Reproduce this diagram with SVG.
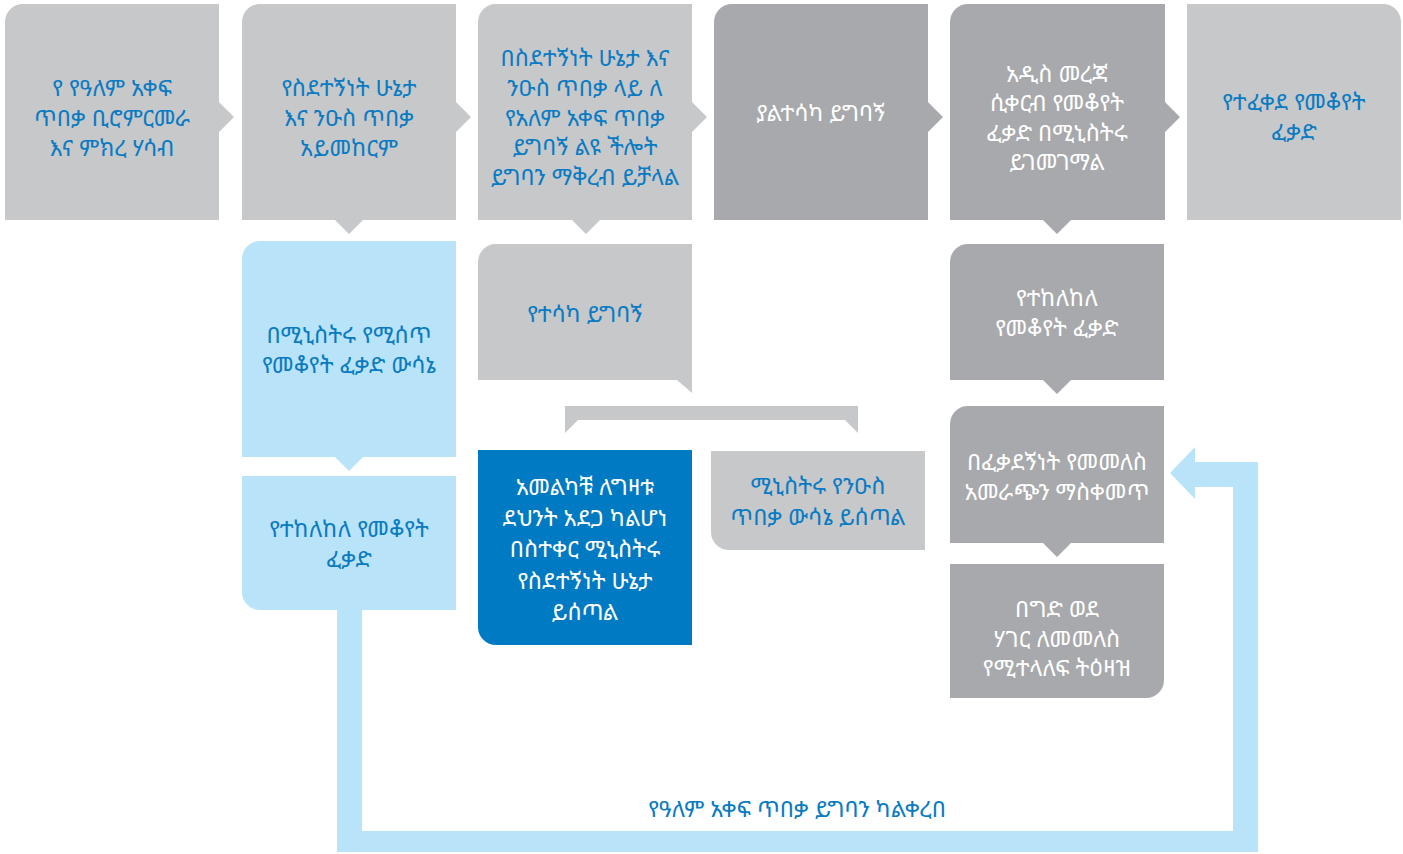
<svg xmlns="http://www.w3.org/2000/svg" width="1403" height="854" viewBox="0 0 1403 854">
<style>
.lg{fill:#C7C8CA}
.dg{fill:#A7A9AC}
.lb{fill:#B8E3F8}
.db{fill:#007AC2}
text{font-family:"Noto Sans Ethiopic","Abyssinica SIL","DejaVu Sans","Noto Sans",sans-serif;font-size:23px;text-anchor:middle}
.tb{fill:#0A7BC2}
.tw{fill:#FFFFFF}
</style>
<rect width="1403" height="854" fill="#FFFFFF"/>
<g id="connectors">
<polygon class="lb" points="337,610 362,610 362,831 1233,831 1233,487 1195,487 1195,499 1170,473 1195,447 1195,462 1258,462 1258,852 337,852"/>
<path class="lg" d="M565,433 V406 H858 V433 L845,420 H578 Z"/>
<text class="tb" x="797" y="817">የዓለም አቀፍ ጥበቃ ይግባን ካልቀረበ</text>
</g>
<g id="n1">
<path class="lg" d="M5,22 A18,18 0 0 1 23,4 H219 V102 L234,117 L219,132 V220 H5 Z"/>
<text class="tb" x="112" y="96">የ የዓለም አቀፍ</text>
<text class="tb" x="112" y="126">ጥበቃ ቢሮምርመራ</text>
<text class="tb" x="112" y="156">እና ምክረ ሃሳብ</text>
</g>
<g id="n2">
<path class="lg" d="M242,22 A18,18 0 0 1 260,4 H456 V102 L471,117 L456,132 V220 H363 L349,234 L335,220 H242 Z"/>
<text class="tb" x="349" y="96">የስደተኝነት ሁኔታ</text>
<text class="tb" x="349" y="126">እና ንዑስ ጥበቃ</text>
<text class="tb" x="349" y="156">አይመከርም</text>
</g>
<g id="n3">
<path class="lg" d="M478,22 A18,18 0 0 1 496,4 H692 V102 L707,117 L692,132 V220 H600 L586,234 L572,220 H478 Z"/>
<text class="tb" x="585" y="66">በስደተኝነት ሁኔታ እና</text>
<text class="tb" x="585" y="96">ንዑስ ጥበቃ ላይ ለ</text>
<text class="tb" x="585" y="126">የአለም አቀፍ ጥበቃ</text>
<text class="tb" x="585" y="155">ይግባኝ ልዩ ችሎት</text>
<text class="tb" x="585" y="185">ይግባን ማቅረብ ይቻላል</text>
</g>
<g id="n4">
<path class="dg" d="M714,22 A18,18 0 0 1 732,4 H928 V102 L943,117 L928,132 V220 H714 Z"/>
<text class="tw" x="821" y="121">ያልተሳካ ይግባኝ</text>
</g>
<g id="n5">
<path class="dg" d="M950,22 A18,18 0 0 1 968,4 H1165 V102 L1180,117 L1165,132 V220 H1071 L1057,234 L1043,220 H950 Z"/>
<text class="tw" x="1057" y="82">አዲስ መረጃ</text>
<text class="tw" x="1057" y="111">ሲቀርብ የመቆየት</text>
<text class="tw" x="1057" y="141">ፈቃድ በሚኒስትሩ</text>
<text class="tw" x="1057" y="170">ይገመገማል</text>
</g>
<g id="n6">
<path class="lg" d="M1187,4 H1383 A18,18 0 0 1 1401,22 V220 H1187 Z"/>
<text class="tb" x="1294" y="110">የተፈቀደ የመቆየት</text>
<text class="tb" x="1294" y="140">ፈቃድ</text>
</g>
<g id="n7">
<path class="lb" d="M242,259 A18,18 0 0 1 260,241 H456 V457 H363 L349,471 L335,457 H242 Z"/>
<text class="tb" x="349" y="343">በሚኒስትሩ የሚሰጥ</text>
<text class="tb" x="349" y="373">የመቆየት ፈቃድ ውሳኔ</text>
</g>
<g id="n8">
<path class="lb" d="M242,476 H456 V610 H260 A18,18 0 0 1 242,592 Z"/>
<text class="tb" x="349" y="537">የተከለከለ የመቆየት</text>
<text class="tb" x="349" y="567">ፈቃድ</text>
</g>
<g id="n9">
<path class="lg" d="M478,262 A18,18 0 0 1 496,244 H692 V393 L677,380 H478 Z"/>
<text class="tb" x="585" y="322">የተሳካ ይግባኝ</text>
</g>
<g id="n10">
<path class="db" d="M478,450 H692 V645 H496 A18,18 0 0 1 478,627 Z"/>
<text class="tw" x="585" y="495">አመልካቹ ለግዛቱ</text>
<text class="tw" x="585" y="526">ደህንት አደጋ ካልሆነ</text>
<text class="tw" x="585" y="557">በስተቀር ሚኒስትሩ</text>
<text class="tw" x="585" y="589">የስደተኝነት ሁኔታ</text>
<text class="tw" x="585" y="620">ይሰጣል</text>
</g>
<g id="n11">
<path class="lg" d="M711,451 H925 V550 H729 A18,18 0 0 1 711,532 Z"/>
<text class="tb" x="818" y="494">ሚኒስትሩ የንዑስ</text>
<text class="tb" x="818" y="525">ጥበቃ ውሳኔ ይሰጣል</text>
</g>
<g id="n12">
<path class="dg" d="M950,262 A18,18 0 0 1 968,244 H1164 V380 H1071 L1057,394 L1043,380 H950 Z"/>
<text class="tw" x="1057" y="306">የተከለከለ</text>
<text class="tw" x="1057" y="336">የመቆየት ፈቃድ</text>
</g>
<g id="n13">
<path class="dg" d="M950,424 A18,18 0 0 1 968,406 H1164 V543 H1071 L1057,557 L1043,543 H950 Z"/>
<text class="tw" x="1057" y="470">በፈቃደኝነት የመመለስ</text>
<text class="tw" x="1057" y="500">አመራጭን ማስቀመጥ</text>
</g>
<g id="n14">
<path class="dg" d="M950,564 H1164 V680 A18,18 0 0 1 1146,698 H950 Z"/>
<text class="tw" x="1057" y="617">በግድ ወደ</text>
<text class="tw" x="1057" y="647">ሃገር ለመመለስ</text>
<text class="tw" x="1057" y="676">የሚተላለፍ ትዕዛዝ</text>
</g>
</svg>
